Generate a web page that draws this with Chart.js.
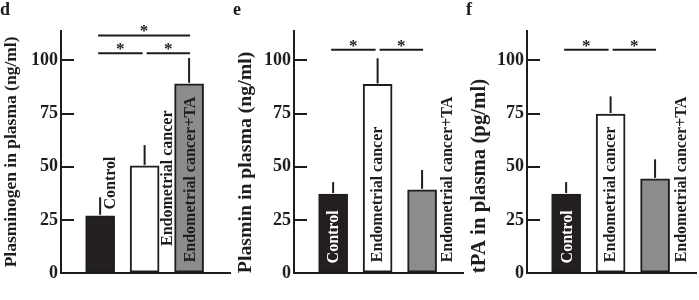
<!DOCTYPE html>
<html>
<head>
<meta charset="utf-8">
<script src="https://cdn.jsdelivr.net/npm/chart.js@4/dist/chart.umd.min.js"></script>
<style>
  body { margin: 0; background: #fff; }
  .panel { position: absolute; top: 0; width: 233px; height: 300px; }
</style>
</head>
<body>
<div class="panel" style="left:0"><canvas id="panel-d" width="233" height="300"></canvas></div>
<div class="panel" style="left:233px"><canvas id="panel-e" width="233" height="300"></canvas></div>
<div class="panel" style="left:466px"><canvas id="panel-f" width="233" height="300"></canvas></div>
<script>
const categories = ["Control", "Endometrial cancer", "Endometrial cancer+TA"];
const plasminogenMeans = [27, 50.4, 89];
const plasminogenErrors = [8.7, 9.8, 12.1];
const plasminMeans = [37.2, 88.7, 39.2];
const plasminErrors = [5.6, 12.3, 9.3];
const tpaMeans = [37.2, 74.8, 44.3];
const tpaErrors = [5.6, 8.3, 9.2];
const yTicks = [0, 25, 50, 75, 100];
const yMax = 114;

// significance brackets: group indexes + height in axis units
const plasminogenSig = [[0, 2, 111.7], [0, 1, 103.3], [1, 2, 103.3]];
const plasminSig = [[0, 1, 105], [1, 2, 105]];
const tpaSig = [[0, 1, 105], [1, 2, 105]];

const ink = "#1e1c1d";
const fills = ["#231f20", "#ffffff", "#8c8c8c"];
const serif = "'Liberation Serif', 'Times New Roman', serif";

function makePanel(id, letter, title, titleSize, titleAlign, means, errors, sig, labelSpots, labelColors) {
  const overlay = {
    id: "overlay",
    afterDatasetsDraw(chart) {
      const { ctx, scales: { x, y } } = chart;
      ctx.save();
      ctx.strokeStyle = ink;
      ctx.lineWidth = 2;

      // one-sided error bars
      means.forEach((m, i) => {
        const px = x.getPixelForValue(i + 1);
        ctx.beginPath();
        ctx.moveTo(px, y.getPixelForValue(m) - 1);
        ctx.lineTo(px, y.getPixelForValue(m + errors[i]));
        ctx.stroke();
      });

      // significance lines with asterisks
      ctx.fillStyle = ink;
      ctx.font = "bold 17px " + serif;
      ctx.textAlign = "center";
      ctx.textBaseline = "alphabetic";
      sig.forEach(([a, b, v]) => {
        const x1 = x.getPixelForValue(a + 1) + (a === 1 ? 2 : -2);
        const x2 = x.getPixelForValue(b + 1) + (b === 1 ? -2 : 1);
        const py = y.getPixelForValue(v);
        ctx.beginPath();
        ctx.moveTo(x1, py);
        ctx.lineTo(x2, py);
        ctx.stroke();
        ctx.fillText("*", (x1 + x2) / 2, py + 1);
      });

      // rotated group names
      ctx.font = "bold 16px " + serif;
      ctx.textAlign = "left";
      ctx.textBaseline = "middle";
      categories.forEach((name, i) => {
        const [lx, lv] = labelSpots[i];
        ctx.save();
        ctx.translate(x.getPixelForValue(lx), y.getPixelForValue(lv));
        ctx.rotate(-Math.PI / 2);
        ctx.fillStyle = labelColors[i];
        ctx.fillText(name, 0, 0);
        ctx.restore();
      });
      ctx.restore();
    }
  };

  return new Chart(document.getElementById(id), {
    type: "bar",
    data: {
      datasets: [{
        data: means.map((v, i) => ({ x: i + 1, y: v })),
        backgroundColor: fills,
        borderColor: ink,
        borderWidth: 2,
        borderSkipped: false,
        barThickness: 29
      }]
    },
    options: {
      responsive: false,
      animation: false,
      layout: { padding: { left: 0, right: 3, top: 0, bottom: 17 } },
      plugins: {
        legend: { display: false },
        tooltip: { enabled: false },
        title: {
          display: true,
          text: letter,
          align: "start",
          color: ink,
          font: { family: serif, size: 18, weight: "bold" },
          padding: { top: 0, bottom: 9 }
        }
      },
      scales: {
        x: {
          type: "linear",
          offset: false,
          min: 0.12,
          max: 3.92,
          ticks: { display: false },
          grid: { display: false },
          border: { display: true, width: 2, color: ink },
          afterFit: s => { s.height = 0; }
        },
        y: {
          min: 0,
          max: yMax,
          afterBuildTicks: s => { s.ticks = yTicks.map(v => ({ value: v })); },
          ticks: {
            color: ink,
            padding: 16,
            font: { family: serif, size: 18, weight: "bold" }
          },
          grid: {
            drawOnChartArea: false,
            drawTicks: true,
            tickLength: -13,
            lineWidth: 2,
            color: ink
          },
          border: { display: true, width: 2, color: ink },
          title: {
            display: true,
            text: title,
            align: titleAlign,
            color: ink,
            font: { family: serif, size: titleSize, weight: "bold" },
            padding: { top: 1, bottom: 0 }
          },
          afterFit: s => { s.width = 61; }
        }
      }
    },
    plugins: [overlay]
  });
}

makePanel("panel-d", "d", "Plasminogen in plasma (ng/ml)", 17.5, "center",
  plasminogenMeans, plasminogenErrors, plasminogenSig,
  [[1.25, 29.9], [2.52, 12.8], [3.04, 5.1]],
  [ink, ink, ink]);

makePanel("panel-e", "e", "Plasmin in plasma (ng/ml)", 19.8, "start",
  plasminMeans, plasminErrors, plasminSig,
  [[1.02, 4.6], [2.0, 5.2], [3.58, 5.1]],
  ["#ffffff", ink, ink]);

makePanel("panel-f", "f", "tPA in plasma (pg/ml)", 20.8, "start",
  tpaMeans, tpaErrors, tpaSig,
  [[1.03, 4.6], [2.0, 5.2], [3.6, 5.1]],
  ["#ffffff", ink, ink]);
</script>
</body>
</html>
